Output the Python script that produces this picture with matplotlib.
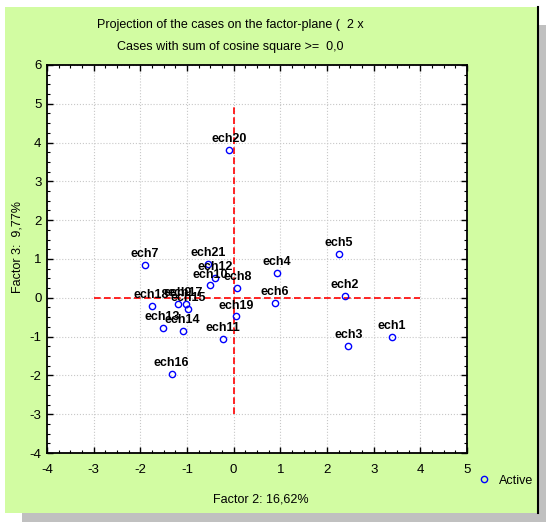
import matplotlib
matplotlib.use("Agg")
import matplotlib.pyplot as plt
from matplotlib.patches import Rectangle
from matplotlib.lines import Line2D
from matplotlib.ticker import MultipleLocator

plt.rcParams['font.family'] = ['Liberation Sans', 'DejaVu Sans']
plt.rcParams['axes.unicode_minus'] = False

names = ["ech1", "ech2", "ech3", "ech4", "ech5", "ech6", "ech7", "ech8", "ech9", "ech10",
         "ech11", "ech12", "ech13", "ech14", "ech15", "ech16", "ech17", "ech18", "ech19",
         "ech20", "ech21"]
factor2 = [3.39, 2.38, 2.46, 0.93, 2.26, 0.89, -1.90, 0.08, -1.20, -0.51,
           -0.23, -0.40, -1.52, -1.09, -0.97, -1.33, -1.03, -1.76, 0.05,
           -0.10, -0.54]
factor3 = [-1.01, 0.05, -1.24, 0.64, 1.13, -0.14, 0.85, 0.25, -0.16, 0.32,
           -1.06, 0.51, -0.77, -0.86, -0.29, -1.96, -0.16, -0.21, -0.48,
           3.80, 0.88]

W, H = 546, 522
fig = plt.figure(figsize=(W / 100, H / 100), dpi=100, facecolor='white')

def px_rect(x0, y0, x1, y1, z, **kw):
    r = Rectangle((x0 / W, 1 - y1 / H), (x1 - x0) / W, (y1 - y0) / H,
                  transform=fig.transFigure, zorder=z, **kw)
    fig.patches.append(r)

# shadow and panel
px_rect(22, 25, 546, 522, -3, facecolor='#c0c0c0', edgecolor='none')
px_rect(5, 7, 538, 513, -2, facecolor='#d2fca2', edgecolor='none')
fig.lines.append(Line2D([538 / W, 538 / W], [1 - 7 / H, 1 - 513 / H],
                        transform=fig.transFigure, color='black', lw=1.5, zorder=-1))

ax = fig.add_axes([47 / W, 1 - 453 / H, (467 - 47) / W, (453 - 65) / H])
ax.set_zorder(1)
ax.set_facecolor('white')
ax.set_xlim(-4, 5)
ax.set_ylim(-4, 6)
ax.xaxis.set_major_locator(MultipleLocator(1))
ax.yaxis.set_major_locator(MultipleLocator(1))
ax.xaxis.set_minor_locator(MultipleLocator(0.25))
ax.yaxis.set_minor_locator(MultipleLocator(0.25))
ax.tick_params(which='both', direction='in', top=True, right=True, labelsize=9.5,
               colors='black')
ax.tick_params(which='major', length=4, width=1)
ax.tick_params(which='minor', length=2.5, width=0.8)
ax.tick_params(axis='x', pad=8)
ax.tick_params(axis='y', pad=4)
for s in ax.spines.values():
    s.set_linewidth(1.3)
ax.grid(True, which='major', color='#c8c8c8', linestyle=':', linewidth=0.8)
ax.set_axisbelow(True)

ax.plot([-3, 4], [0, 0], color='red', linestyle='--', linewidth=1.2, dashes=(4, 2), zorder=2)
ax.plot([0, 0], [-3, 5], color='red', linestyle='--', linewidth=1.2, dashes=(4, 2), zorder=2)

ax.plot(factor2, factor3, linestyle='none', marker='o', markersize=4.5,
        markerfacecolor='none', markeredgecolor='blue', markeredgewidth=1, zorder=3)
for n, x, y in zip(names, factor2, factor3):
    ax.annotate(n, (x, y), xytext=(0, 3.5), textcoords='offset points',
                ha='center', va='bottom', fontsize=9, fontweight='bold', zorder=4)

fig.text(230 / W, 1 - 25 / H, "Projection of the cases on the factor-plane (  2 x",
         ha='center', va='center', fontsize=9)
fig.text(230 / W, 1 - 47 / H, "Cases with sum of cosine square >=  0,0",
         ha='center', va='center', fontsize=9)
fig.text(261 / W, 1 - 499 / H, "Factor 2: 16,62%", ha='center', va='center', fontsize=9)
fig.text(18 / W, 1 - 247 / H, "Factor 3:  9,77%", ha='center', va='center',
         rotation=90, fontsize=9)

# legend
fig.lines.append(Line2D([484 / W], [1 - 479 / H], transform=fig.transFigure,
                        marker='o', markersize=4.5, markerfacecolor='none',
                        markeredgecolor='blue', markeredgewidth=1, linestyle='none'))
fig.text(499 / W, 1 - 481 / H, "Active", ha='left', va='center', fontsize=9)

fig.savefig('out.png', dpi=100, facecolor='white')
